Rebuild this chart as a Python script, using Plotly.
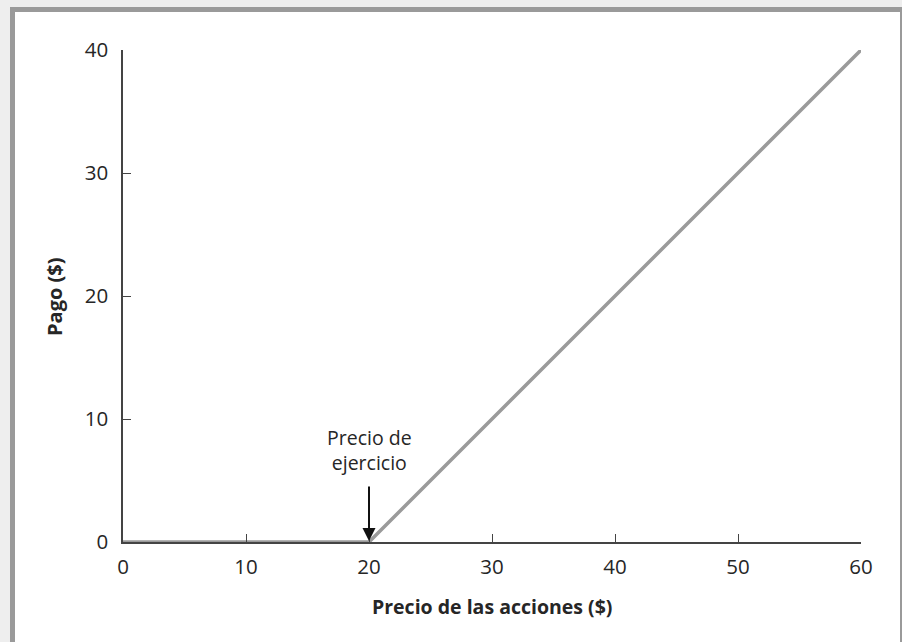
import plotly.graph_objects as go

# Data
precio_acciones = [0, 20, 60]
pago = [0, 0, 40]
x_ticks = [0, 10, 20, 30, 40, 50, 60]
y_ticks = [0, 10, 20, 30, 40]
precio_ejercicio = 20

W, H = 902, 642
L, R, T, B = 123, 41, 50, 100
pw, ph = W - L - R, H - T - B

def px(x):
    return (x - L) / pw

def py(y):
    return (H - B - y) / ph

FONT = "Open Sans"
TXT = "#262626"
AX = "#444444"

fig = go.Figure()
fig.add_trace(go.Scatter(
    x=precio_acciones, y=pago, mode="lines",
    line=dict(color="#9a9a9a", width=3.5),
    hoverinfo="skip", showlegend=False,
))

shapes = [
    # grey frame
    dict(type="rect", xref="paper", yref="paper", x0=px(10), x1=px(902), y0=py(650), y1=py(7),
         fillcolor="#9a9a9a", line=dict(width=0), layer="below"),
    dict(type="rect", xref="paper", yref="paper", x0=px(15), x1=px(900), y0=py(650), y1=py(12),
         fillcolor="white", line=dict(width=0), layer="below"),
]

annotations = [
    dict(x=precio_ejercicio, y=0, xref="x", yref="y", text="", showarrow=True,
         ax=0, ay=-57, arrowhead=2, arrowsize=1.3, arrowwidth=2, arrowcolor="#111111",
         standoff=1),
    dict(x=precio_ejercicio, y=0, xref="x", yref="y", yshift=92,
         text="Precio de<br>ejercicio", showarrow=False,
         font=dict(family=FONT, size=19.5, color=TXT), align="center"),
    dict(x=px(492), y=py(606), xref="paper", yref="paper", xanchor="center", yanchor="middle",
         text="<b>Precio de las acciones ($)</b>",
         showarrow=False, font=dict(family=FONT, size=19.5, color=TXT)),
    dict(x=px(54), y=py(297), xref="paper", yref="paper", xanchor="center", yanchor="middle",
         text="<b>Pago ($)</b>", textangle=-90,
         showarrow=False, font=dict(family=FONT, size=20, color=TXT)),
]

fig.update_layout(
    width=W, height=H,
    margin=dict(l=L, r=R, t=T, b=B, pad=0),
    paper_bgcolor="#eeeeee",
    plot_bgcolor="rgba(0,0,0,0)",
    shapes=shapes,
    annotations=annotations,
    font=dict(family=FONT, size=20.5, color=TXT),
    xaxis=dict(range=[0, 60], tickvals=x_ticks, ticktext=[str(v) for v in x_ticks],
               showgrid=False, zeroline=False, showline=True, linecolor=AX, linewidth=1.5,
               ticks="inside", ticklen=8, tickcolor=AX, tickwidth=1.2,
               ticklabelstandoff=6, fixedrange=True),
    yaxis=dict(range=[0, 40], tickvals=y_ticks, ticktext=[str(v) for v in y_ticks],
               showgrid=False, zeroline=False, showline=True, linecolor=AX, linewidth=1.5,
               ticks="inside", ticklen=8, tickcolor=AX, tickwidth=1.2,
               ticklabelstandoff=9, fixedrange=True),
)

fig.write_html("out.html", config={"displayModeBar": False},
               post_script="document.body.style.margin='0';document.body.style.overflow='hidden';")
